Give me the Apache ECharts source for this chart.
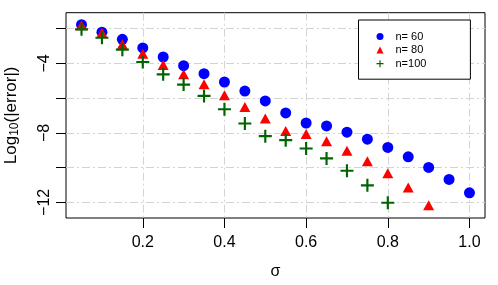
<!DOCTYPE html>
<html><head><meta charset="utf-8">
<script src="https://cdn.jsdelivr.net/npm/echarts@6/dist/echarts.min.js"></script>
<style>html,body{margin:0;padding:0;background:#fff}#c{width:498px;height:285px}</style>
</head><body><div id="c"></div>
<script>
const sigma = [0.05,0.10,0.15,0.20,0.25,0.30,0.35,0.40,0.45,0.50,0.55,0.60,0.65,0.70,0.75,0.80,0.85,0.90,0.95,1.00];
const n60 = [-1.77,-2.20,-2.61,-3.11,-3.63,-4.13,-4.59,-5.07,-5.59,-6.16,-6.85,-7.43,-7.60,-7.96,-8.36,-8.84,-9.38,-9.99,-10.68,-11.45];
const n80 = [-1.80,-2.23,-2.90,-3.44,-4.09,-4.63,-5.20,-5.83,-6.51,-7.17,-7.89,-8.07,-8.48,-9.03,-9.63,-10.33,-11.14,-12.17];
const n100 = [-2.04,-2.52,-3.21,-3.92,-4.63,-5.22,-5.87,-6.64,-7.46,-8.19,-8.42,-8.90,-9.47,-10.18,-11.02,-12.02];
const xTicks = [0.2,0.4,0.6,0.8,1.0];
const yTicks = [-12,-10,-8,-6,-4,-2];
const yLabels = [-12,-8,-4];
const names = ['n= 60','n= 80','n=100'];

const FONT = 'Liberation Sans';
const plusPath = 'path://M5,0h2v5h5v2h-5v5h-2v-5h-5v-2h5z';
const grid = {color:'#d3d3d3', width:1, type:[8,3,2,3]};
function pairs(ys){return ys.map((v,i)=>[sigma[i],v]);}

const chart = echarts.init(document.getElementById('c'), null, {renderer:'canvas'});
chart.setOption({
  animation:false,
  backgroundColor:'#fff',
  grid:{left:66,right:13,top:12.7,bottom:67,containLabel:false,outerBoundsMode:'none',show:true,borderColor:'#000',borderWidth:1,backgroundColor:'transparent'},
  xAxis:{type:'value',min:0.012,max:1.038,
    name:'σ',nameLocation:'middle',nameGap:46,nameTextStyle:{fontFamily:FONT,fontSize:16,color:'#000'},
    axisLine:{show:false},
    axisTick:{show:true,customValues:xTicks,length:10,lineStyle:{color:'#000'}},
    axisLabel:{customValues:xTicks,margin:17,fontFamily:FONT,fontSize:16,color:'#000',formatter:v=>v.toFixed(1)},
    splitLine:{show:true,lineStyle:grid}},
  yAxis:{type:'value',min:-12.9,max:-1.08,
    name:'{a|Log}{s|10}{a|(|error|)}',nameLocation:'middle',nameGap:45,nameRotate:90,
    nameTextStyle:{fontFamily:FONT,fontSize:17,color:'#000',rich:{a:{fontFamily:FONT,fontSize:17,color:'#000'},s:{fontFamily:FONT,fontSize:12,color:'#000',padding:[7,0,0,0]}}},
    axisLine:{show:false},
    axisTick:{show:true,customValues:yTicks,length:10,lineStyle:{color:'#000'}},
    axisLabel:{customValues:yLabels,rotate:90,margin:13,fontFamily:FONT,fontSize:16,color:'#000',
      formatter:v=>(v<0?'\u2212':'')+Math.abs(v)},
    splitLine:{show:true,lineStyle:grid}},
  legend:{orient:'vertical',left:358.5,top:20,padding:[11,44,10,18],itemGap:2.6,itemWidth:7,itemHeight:7,itemTextGap:5,
    borderColor:'#000',borderWidth:1,backgroundColor:'#fff',
    textStyle:{fontFamily:FONT,fontSize:11,color:'#000',padding:[0,0,0,7]},
    data:[{name:names[0],icon:'circle'},{name:names[1],icon:'triangle'},{name:names[2],icon:plusPath}]},
  series:[
    {name:names[0],type:'scatter',data:pairs(n60),symbol:'circle',symbolSize:11,itemStyle:{color:'#0000ff',opacity:1},z:2},
    {name:names[1],type:'scatter',data:pairs(n80),symbol:'triangle',symbolSize:[11,10],itemStyle:{color:'#ff0000',opacity:1},z:3},
    {name:names[2],type:'scatter',data:pairs(n100),symbol:plusPath,symbolSize:13,itemStyle:{color:'#006400',opacity:1},z:4}
  ]
});
</script></body></html>
